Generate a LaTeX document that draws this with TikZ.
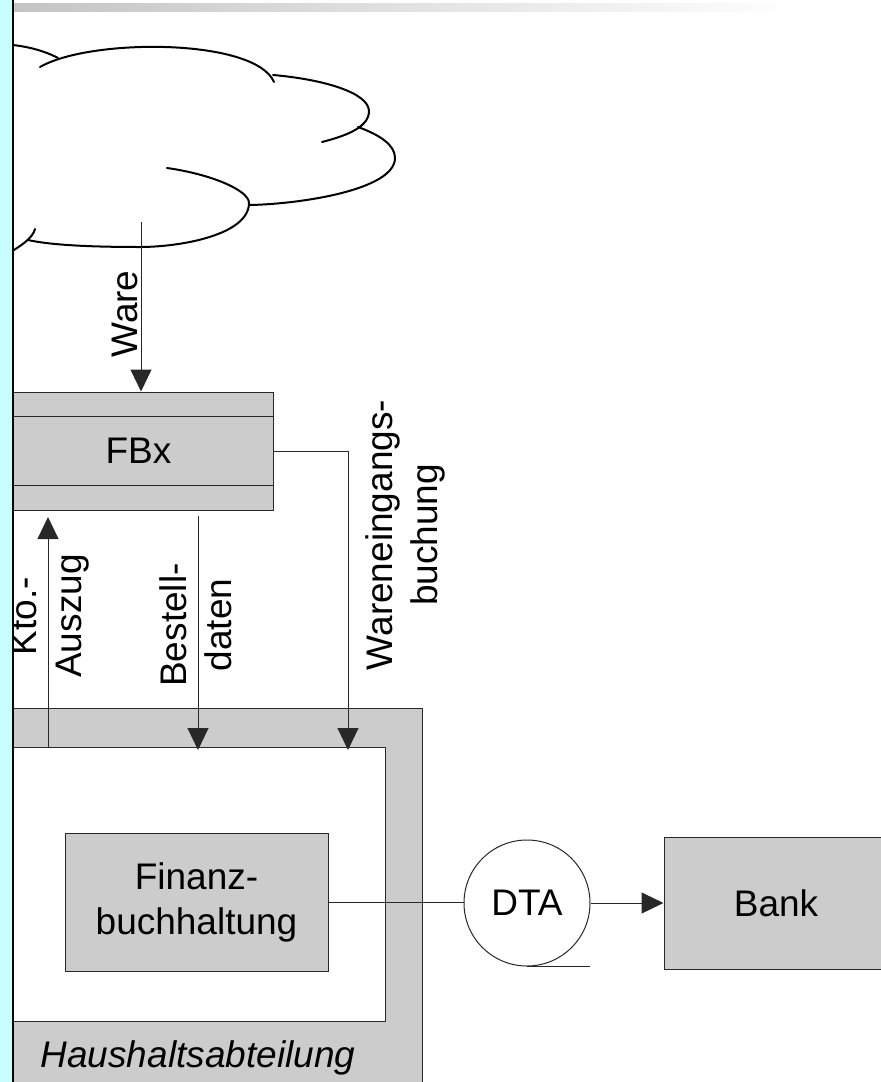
\documentclass[tikz,border=0pt]{standalone}
\usepackage{fontspec}
\setmainfont{Liberation Sans}
\usetikzlibrary{arrows.meta,calc}
\definecolor{boxgray}{RGB}{204,204,204}
\definecolor{barcyan}{RGB}{200,255,255}
\definecolor{barshade}{RGB}{196,196,196}
\definecolor{edge}{RGB}{40,40,40}
\newcommand\lblfont{\fontsize{37}{45}\selectfont}

\begin{document}
\begin{tikzpicture}[x=1pt,y=-1pt,
  box/.style={draw=edge, fill=boxgray, line width=1pt, inner sep=0pt, font=\lblfont, align=center},
  lbl/.style={inner sep=0pt, font=\lblfont, align=center},
  flow/.style={draw=edge, line width=1pt, -{Triangle[length=22pt,width=21pt]}},
  link/.style={draw=edge, line width=1pt},
  cloudline/.style={draw=black, line width=2pt, line cap=round}]

\useasboundingbox (0,0) rectangle (881,1082);
\clip (0,0) rectangle (881,1082);

% shaded title rule
\shade[left color=barshade, right color=white] (13,3) rectangle (800,11);

% cloud (supplier side)
\draw[cloudline] (0,44) .. controls (25,45) and (45,51) .. (58,58);
\draw[cloudline] (40,67) .. controls (90,38) and (255,38) .. (274,82);
\draw[cloudline] (273,75) .. controls (320,79) and (370,92) .. (369,112)
                 .. controls (368,128) and (345,136) .. (322,142);
\draw[cloudline] (358,127) .. controls (380,135) and (395,145) .. (395,158)
                 .. controls (395,190) and (300,204) .. (250,205);
\draw[cloudline] (167,168) .. controls (210,174) and (249,190) .. (249,203)
                 .. controls (249,235) and (180,247) .. (140,247)
                 .. controls (90,247) and (50,245) .. (28,240);
\draw[cloudline] (5,255) .. controls (20,247) and (33,238) .. (35,229);

% FBx
\node[box, minimum width=269pt, minimum height=118pt] (fbx) at (138.5,451) {FBx};
\draw[link] ($(fbx.north west)+(0,25)$) -- ($(fbx.north east)+(0,25)$);
\draw[link] ($(fbx.south west)+(0,-25)$) -- ($(fbx.south east)+(0,-25)$);

% Haushaltsabteilung
\node[box, minimum width=418pt, minimum height=400pt, anchor=north west] (hh) at (4,708) {};
\node[draw=edge, fill=white, line width=1pt, inner sep=0pt, minimum width=381pt, minimum height=274pt, anchor=north west] (hhin) at (4,747) {};
\node[lbl, anchor=base, font=\lblfont\itshape] (hhname) at (198,1067) {Haushaltsabteilung};

\node[box, minimum width=263pt, minimum height=138pt] (fin) at (196.5,902) {Finanz-\\buchhaltung};

% DTA and Bank
\node[draw=edge, fill=white, line width=1pt, circle, minimum size=126pt, inner sep=0pt, font=\lblfont] (dta) at (527,903) {DTA};
\node[box, minimum width=224pt, minimum height=132pt] (bank) at (776,903) {Bank};

% connectors
\coordinate (waresrc) at (141,222);
\coordinate (ktotip) at (48,517);
\coordinate (bstsrc) at (198,516);
\coordinate (webx) at (348,0);

\draw[flow] (waresrc) -- (waresrc |- fbx.north);
\draw[flow] (ktotip |- hhin.north) -- (ktotip);
\draw[flow] (bstsrc) -- ($(bstsrc |- hhin.north)+(0,3)$);
\draw[flow] (fbx.east) -| ($(webx |- hhin.north)+(0,3)$);
\draw[link] (fin.east) -- (fin.east -| dta.west);
\draw[link] (dta.south) -- ++(63,0);
\draw[flow] (dta.east) -- (bank.west);

% labels
\node[lbl, rotate=90, anchor=base] (lware) at (137,314) {Ware};
\node[lbl, rotate=90] (lkto) at (50,616) {Kto.-\\Auszug};
\node[lbl, rotate=90] (lbst) at (196,625) {Bestell-\\daten};
\node[lbl, rotate=90] (lweb) at (405.5,535) {Wareneingangs-\\buchung};

% left margin bar
\fill[barcyan] (0,0) rectangle (12,1082);
\draw[black, line width=2pt] (13,0) -- (13,1082);
\end{tikzpicture}
\end{document}
